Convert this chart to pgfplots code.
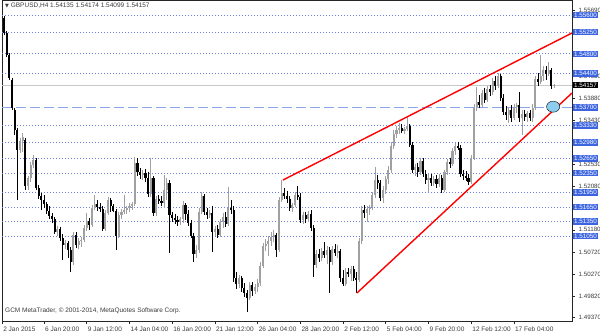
\documentclass[border=0pt]{standalone}
\usepackage{fontspec}
\setmainfont{Liberation Sans}
\newfontfamily\symfont{DejaVu Sans}
\usepackage{pgfplots}
\usepackage{pgfplotstable}
\pgfplotsset{compat=1.18}
\definecolor{gridblue}{RGB}{105,125,228}
\definecolor{dashblue}{RGB}{140,165,240}
\definecolor{boxblue}{RGB}{60,100,225}
\definecolor{bullgray}{RGB}{160,160,160}
\definecolor{pricegray}{RGB}{200,200,200}
\definecolor{circblue}{RGB}{140,205,240}
\definecolor{txtgray}{RGB}{60,60,60}

\pgfplotstableread{
j o h l c
1 1.5554 1.5558 1.5519 1.5523
2 1.5523 1.5527 1.5474 1.5478
3 1.5478 1.5482 1.5426 1.5430
4 1.5426 1.5430 1.5365 1.5369
5 1.5365 1.5369 1.5313 1.5323
6 1.5323 1.5328 1.5179 1.5282
7 1.5282 1.5307 1.5276 1.5301
8 1.5301 1.5317 1.5278 1.5309
9 1.5303 1.5307 1.5200 1.5208
10 1.5208 1.5229 1.5200 1.5225
11 1.5225 1.5258 1.5216 1.5251
12 1.5251 1.5272 1.5245 1.5262
13 1.5262 1.5266 1.5200 1.5204
14 1.5204 1.5210 1.5182 1.5188
15 1.5188 1.5194 1.5159 1.5179
16 1.5179 1.5190 1.5163 1.5171
17 1.5171 1.5175 1.5151 1.5157
18 1.5157 1.5167 1.5140 1.5147
19 1.5147 1.5153 1.5132 1.5140
20 1.5140 1.5144 1.5110 1.5114
21 1.5114 1.5126 1.5105 1.5120
22 1.5120 1.5124 1.5095 1.5101
23 1.5101 1.5110 1.5056 1.5087
24 1.5087 1.5097 1.5079 1.5091
25 1.5091 1.5095 1.5060 1.5076
26 1.5076 1.5083 1.5031 1.5052
27 1.5052 1.5114 1.5046 1.5107
28 1.5107 1.5114 1.5081 1.5087
29 1.5087 1.5101 1.5079 1.5095
30 1.5095 1.5103 1.5083 1.5097
31 1.5097 1.5128 1.5093 1.5122
32 1.5122 1.5153 1.5116 1.5136
33 1.5136 1.5142 1.5118 1.5128
34 1.5128 1.5169 1.5124 1.5163
35 1.5163 1.5190 1.5159 1.5171
36 1.5171 1.5179 1.5157 1.5165
37 1.5165 1.5173 1.5155 1.5161
38 1.5161 1.5167 1.5116 1.5120
39 1.5120 1.5159 1.5116 1.5153
40 1.5153 1.5186 1.5149 1.5179
41 1.5179 1.5184 1.5155 1.5167
42 1.5167 1.5171 1.5155 1.5157
43 1.5157 1.5161 1.5076 1.5105
44 1.5105 1.5155 1.5101 1.5149
45 1.5149 1.5161 1.5140 1.5155
46 1.5155 1.5190 1.5151 1.5159
47 1.5159 1.5167 1.5151 1.5163
48 1.5163 1.5173 1.5155 1.5167
49 1.5167 1.5175 1.5159 1.5171
50 1.5171 1.5268 1.5167 1.5256
51 1.5256 1.5266 1.5229 1.5237
52 1.5237 1.5245 1.5223 1.5231
53 1.5231 1.5241 1.5221 1.5235
54 1.5235 1.5243 1.5216 1.5225
55 1.5225 1.5237 1.5186 1.5192
56 1.5192 1.5266 1.5186 1.5225
57 1.5225 1.5229 1.5147 1.5153
58 1.5153 1.5188 1.5147 1.5182
59 1.5182 1.5190 1.5171 1.5177
60 1.5177 1.5188 1.5167 1.5173
61 1.5173 1.5231 1.5163 1.5200
62 1.5200 1.5225 1.5179 1.5214
63 1.5214 1.5221 1.5070 1.5149
64 1.5149 1.5155 1.5134 1.5142
65 1.5142 1.5151 1.5130 1.5138
66 1.5138 1.5147 1.5126 1.5134
67 1.5134 1.5144 1.5128 1.5140
68 1.5140 1.5177 1.5132 1.5169
69 1.5169 1.5173 1.5138 1.5151
70 1.5151 1.5159 1.5126 1.5132
71 1.5132 1.5138 1.5101 1.5105
72 1.5105 1.5112 1.5052 1.5068
73 1.5068 1.5087 1.5060 1.5076
74 1.5076 1.5163 1.5070 1.5155
75 1.5155 1.5196 1.5151 1.5188
76 1.5188 1.5192 1.5149 1.5155
77 1.5155 1.5163 1.5140 1.5149
78 1.5149 1.5159 1.5142 1.5153
79 1.5153 1.5167 1.5072 1.5114
80 1.5114 1.5126 1.5105 1.5120
81 1.5120 1.5128 1.5101 1.5107
82 1.5107 1.5140 1.5103 1.5134
83 1.5134 1.5153 1.5122 1.5144
84 1.5144 1.5155 1.5124 1.5130
85 1.5130 1.5206 1.5126 1.5163
86 1.5163 1.5179 1.5151 1.5159
87 1.5159 1.5167 1.5011 1.5019
88 1.5019 1.5031 1.4996 1.5007
89 1.5007 1.5025 1.4998 1.5019
90 1.5019 1.5023 1.4990 1.4998
91 1.4998 1.5009 1.4980 1.4988
92 1.4988 1.4994 1.4949 1.4978
93 1.4978 1.5011 1.4974 1.5005
94 1.5005 1.5011 1.4982 1.4992
95 1.4992 1.5007 1.4986 1.5000
96 1.5000 1.5017 1.4990 1.5009
97 1.5009 1.5052 1.5002 1.5044
98 1.5044 1.5091 1.5039 1.5085
99 1.5085 1.5099 1.5074 1.5089
100 1.5089 1.5105 1.5064 1.5095
101 1.5095 1.5114 1.5085 1.5103
102 1.5103 1.5118 1.5093 1.5107
103 1.5107 1.5112 1.5062 1.5076
104 1.5076 1.5186 1.5072 1.5179
105 1.5179 1.5221 1.5175 1.5194
106 1.5194 1.5204 1.5182 1.5188
107 1.5188 1.5198 1.5173 1.5182
108 1.5182 1.5188 1.5157 1.5163
109 1.5163 1.5173 1.5155 1.5169
110 1.5169 1.5196 1.5165 1.5190
111 1.5190 1.5208 1.5179 1.5186
112 1.5186 1.5194 1.5132 1.5138
113 1.5138 1.5155 1.5130 1.5149
114 1.5149 1.5155 1.5132 1.5140
115 1.5140 1.5157 1.5134 1.5151
116 1.5151 1.5159 1.5116 1.5122
117 1.5122 1.5128 1.5021 1.5046
118 1.5046 1.5076 1.5039 1.5068
119 1.5068 1.5079 1.5052 1.5060
120 1.5060 1.5081 1.5054 1.5074
121 1.5074 1.5093 1.5060 1.5066
122 1.5066 1.5085 1.5048 1.5076
123 1.5076 1.5083 1.4988 1.5052
124 1.5052 1.5085 1.5046 1.5079
125 1.5079 1.5089 1.5064 1.5070
126 1.5070 1.5087 1.5060 1.5074
127 1.5074 1.5079 1.5011 1.5019
128 1.5019 1.5035 1.5002 1.5007
129 1.5007 1.5039 1.5002 1.5031
130 1.5031 1.5039 1.5021 1.5027
131 1.5027 1.5044 1.5013 1.5037
132 1.5037 1.5044 1.5013 1.5019
133 1.5019 1.5031 1.4988 1.5015
134 1.5015 1.5101 1.5011 1.5095
135 1.5095 1.5167 1.5089 1.5159
136 1.5159 1.5169 1.5142 1.5153
137 1.5153 1.5167 1.5134 1.5161
138 1.5161 1.5169 1.5149 1.5165
139 1.5165 1.5196 1.5159 1.5190
140 1.5190 1.5247 1.5184 1.5221
141 1.5221 1.5231 1.5202 1.5214
142 1.5214 1.5221 1.5177 1.5184
143 1.5184 1.5208 1.5173 1.5200
144 1.5200 1.5229 1.5192 1.5223
145 1.5223 1.5249 1.5212 1.5241
146 1.5241 1.5299 1.5235 1.5290
147 1.5290 1.5323 1.5284 1.5315
148 1.5315 1.5332 1.5307 1.5323
149 1.5323 1.5338 1.5315 1.5328
150 1.5328 1.5336 1.5317 1.5321
151 1.5321 1.5330 1.5315 1.5325
152 1.5325 1.5350 1.5321 1.5332
153 1.5332 1.5336 1.5288 1.5293
154 1.5293 1.5299 1.5235 1.5241
155 1.5241 1.5254 1.5229 1.5247
156 1.5247 1.5256 1.5227 1.5237
157 1.5237 1.5266 1.5231 1.5260
158 1.5260 1.5266 1.5227 1.5233
159 1.5233 1.5241 1.5212 1.5221
160 1.5221 1.5233 1.5196 1.5225
161 1.5225 1.5233 1.5208 1.5214
162 1.5214 1.5229 1.5208 1.5223
163 1.5223 1.5231 1.5204 1.5212
164 1.5212 1.5233 1.5206 1.5225
165 1.5225 1.5231 1.5194 1.5200
166 1.5200 1.5241 1.5196 1.5237
167 1.5237 1.5264 1.5231 1.5258
168 1.5258 1.5266 1.5245 1.5254
169 1.5254 1.5286 1.5249 1.5280
170 1.5280 1.5297 1.5272 1.5290
171 1.5290 1.5299 1.5282 1.5286
172 1.5286 1.5293 1.5227 1.5233
173 1.5233 1.5241 1.5221 1.5229
174 1.5229 1.5239 1.5218 1.5225
175 1.5225 1.5233 1.5210 1.5216
176 1.5216 1.5272 1.5212 1.5266
177 1.5266 1.5377 1.5262 1.5369
178 1.5369 1.5412 1.5363 1.5381
179 1.5381 1.5395 1.5369 1.5375
180 1.5375 1.5406 1.5371 1.5400
181 1.5400 1.5410 1.5379 1.5385
182 1.5385 1.5414 1.5381 1.5408
183 1.5408 1.5416 1.5393 1.5402
184 1.5402 1.5430 1.5395 1.5424
185 1.5424 1.5435 1.5406 1.5414
186 1.5414 1.5441 1.5410 1.5435
187 1.5435 1.5439 1.5383 1.5389
188 1.5389 1.5397 1.5354 1.5360
189 1.5360 1.5373 1.5344 1.5354
190 1.5354 1.5371 1.5338 1.5365
191 1.5365 1.5375 1.5340 1.5348
192 1.5348 1.5377 1.5344 1.5371
193 1.5371 1.5379 1.5358 1.5375
194 1.5375 1.5402 1.5340 1.5348
195 1.5348 1.5365 1.5313 1.5356
196 1.5356 1.5365 1.5342 1.5350
197 1.5350 1.5363 1.5340 1.5358
198 1.5358 1.5365 1.5342 1.5348
199 1.5348 1.5377 1.5340 1.5369
200 1.5369 1.5435 1.5365 1.5428
201 1.5428 1.5441 1.5414 1.5422
202 1.5422 1.5478 1.5418 1.5435
203 1.5435 1.5455 1.5424 1.5447
204 1.5447 1.5455 1.5426 1.5439
205 1.5439 1.5463 1.5435 1.5447
206 1.5447 1.5451 1.5408 1.5414
207 1.54135 1.54174 1.54099 1.54157
}\candles

\begin{document}
\begin{tikzpicture}[font=\fontsize{6.5}{7.5}\selectfont]
\useasboundingbox (0,0) rectangle (600pt,333pt);
\begin{axis}[
  at={(2pt,12pt)}, anchor=south west,
  scale only axis, width=570pt, height=321pt,
  xmin=0.26, xmax=213.75, ymin=1.49304, ymax=1.55909,
  axis line style={draw=black!85, line width=0.7pt},
  tick align=outside, major tick length=3pt,
  tick style={draw=black!85, line width=0.6pt},
  xtick pos=left, xticklabel pos=left,
  ytick pos=right, yticklabel pos=right,
  xtick={0.3,16,32,48,64,80,96,112,128,144,160,176,192},
  xticklabels={2 Jan 2015, 6 Jan 20:00, 9 Jan 12:00, 14 Jan 04:00, 16 Jan 20:00, 21 Jan 12:00, 26 Jan 04:00, 28 Jan 20:00, 2 Feb 12:00, 5 Feb 04:00, 9 Feb 20:00, 12 Feb 12:00, 17 Feb 04:00},
  xticklabel style={anchor=north west, inner sep=0pt, xshift=1pt, yshift=-2.5pt, text=txtgray},
  ytick={1.4937,1.4982,1.5027,1.5072,1.5118,1.5163,1.5208,1.5253,1.5298,1.5343,1.5388,1.5433,1.5479,1.5524,1.5569},
  yticklabels={1.49370,1.49820,1.50270,1.50720,1.51180,{},1.52080,1.52530,{},1.53430,1.53880,1.54330,{},{},1.55690},
  yticklabel style={anchor=west, inner sep=0pt, xshift=3.5pt, text=txtgray, font=\fontsize{6.2}{7}\selectfont},
]
% horizontal level lines
\foreach \lv in {1.5560,1.5525,1.5480,1.5440,1.5333,1.5298,1.5265,1.5235,1.5195,1.5165,1.5135,1.5105}{
  \edef\tmp{\noexpand\addplot[gridblue, line width=0.8pt, dash pattern=on 1.4pt off 1.6pt, forget plot] coordinates {(0.26,\lv) (213.75,\lv)};}
  \tmp
}
\addplot[dashblue, line width=1pt, dash pattern=on 10pt off 4pt, forget plot] coordinates {(0.26,1.5370) (213.75,1.5370)};
\addplot[pricegray, line width=0.7pt, forget plot] coordinates {(0.26,1.54157) (213.75,1.54157)};
% wicks
\addplot[draw=none, mark=none, forget plot, error bars/.cd, y dir=minus, y explicit, error mark=none,
  error bar style={draw=bullgray, line width=0.7pt}]
  table[x=j, y=h, y error minus expr={(\thisrow{c}>=\thisrow{o})*(\thisrow{h}-\thisrow{l})}] {\candles};
\addplot[draw=none, mark=none, forget plot, error bars/.cd, y dir=minus, y explicit, error mark=none,
  error bar style={draw=black, line width=0.7pt}]
  table[x=j, y=h, y error minus expr={(\thisrow{c}<\thisrow{o})*(\thisrow{h}-\thisrow{l})}] {\candles};
% bodies
\addplot[draw=none, mark=none, forget plot, error bars/.cd, y dir=minus, y explicit, error mark=none,
  error bar style={draw=bullgray, line width=2.1pt}]
  table[x=j, y=c, y error minus expr={max(\thisrow{c}-\thisrow{o},0)}] {\candles};
\addplot[draw=none, mark=none, forget plot, error bars/.cd, y dir=minus, y explicit, error mark=none,
  error bar style={draw=black, line width=2.1pt}]
  table[x=j, y=o, y error minus expr={max(\thisrow{o}-\thisrow{c},0)}] {\candles};
% trend lines
\addplot[red, line width=1.4pt, forget plot] coordinates {(105.5,1.52205) (213.75,1.55230)};
\addplot[red, line width=1.4pt, forget plot] coordinates {(133.2,1.49880) (213.75,1.53995)};
% marker circle
\addplot[only marks, mark=*, mark size=6pt, mark options={fill=circblue, draw=none, xscale=1.1, yscale=0.92}, forget plot] coordinates {(206.7,1.53714)};
% label anchors
\coordinate (b1) at (axis cs:213.75,1.5560);
\coordinate (b2) at (axis cs:213.75,1.5525);
\coordinate (b3) at (axis cs:213.75,1.5480);
\coordinate (b4) at (axis cs:213.75,1.5440);
\coordinate (b5) at (axis cs:213.75,1.5370);
\coordinate (b6) at (axis cs:213.75,1.5333);
\coordinate (b7) at (axis cs:213.75,1.5298);
\coordinate (b8) at (axis cs:213.75,1.5265);
\coordinate (b9) at (axis cs:213.75,1.5235);
\coordinate (b10) at (axis cs:213.75,1.5195);
\coordinate (b11) at (axis cs:213.75,1.5165);
\coordinate (b12) at (axis cs:213.75,1.5135);
\coordinate (b13) at (axis cs:213.75,1.5105);
\coordinate (bp) at (axis cs:213.75,1.54157);
\end{axis}
\tikzset{lbl/.style={anchor=west, fill=boxblue, text=white, inner xsep=1pt, inner ysep=1pt, font=\fontsize{6.3}{6.3}\selectfont}}
\node[lbl] at ([xshift=1pt]b1) {1.55600};
\node[lbl] at ([xshift=1pt]b2) {1.55250};
\node[lbl] at ([xshift=1pt]b3) {1.54800};
\node[lbl] at ([xshift=1pt]b4) {1.54400};
\node[lbl] at ([xshift=1pt]b5) {1.53700};
\node[lbl] at ([xshift=1pt]b6) {1.53330};
\node[lbl] at ([xshift=1pt]b7) {1.52980};
\node[lbl] at ([xshift=1pt]b8) {1.52650};
\node[lbl] at ([xshift=1pt]b9) {1.52350};
\node[lbl] at ([xshift=1pt]b10) {1.51950};
\node[lbl] at ([xshift=1pt]b11) {1.51650};
\node[lbl] at ([xshift=1pt]b12) {1.51350};
\node[lbl] at ([xshift=1pt]b13) {1.51050};
\node[lbl, fill=black] at ([xshift=1pt]bp) {1.54157};
\node[anchor=west, inner sep=0pt, text=txtgray, font=\fontsize{6.5}{7}\selectfont] at (5pt,327pt)
  {{\symfont\fontsize{5}{5}\selectfont ▼}\ GBPUSD,H4 1.54135 1.54174 1.54099 1.54157};
\node[anchor=west, inner sep=0pt, text=txtgray, font=\fontsize{6.5}{7}\selectfont] at (5pt,22pt)
  {GCM MetaTrader, © 2001-2014, MetaQuotes Software Corp.};
\end{tikzpicture}
\end{document}
